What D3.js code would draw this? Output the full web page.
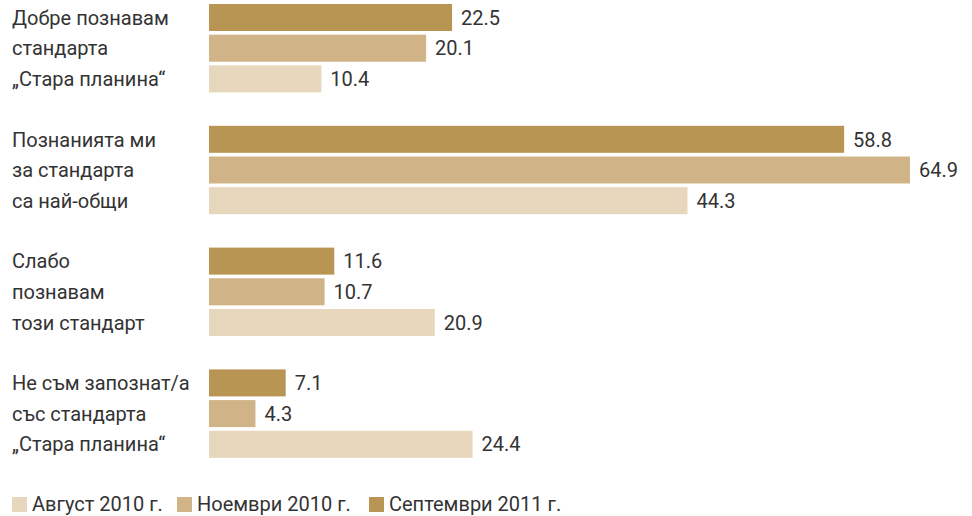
<!DOCTYPE html>
<html><head><meta charset="utf-8">
<script src="https://cdn.jsdelivr.net/npm/d3@7"></script>
<style>body{margin:0;background:#fff}svg{display:block}text{font-family:Roboto,"Noto Sans",sans-serif;fill:#333}</style>
</head><body>
<script>
const categories = [
  ["Добре познавам","стандарта","„Стара планина“"],
  ["Познанията ми","за стандарта","са най-общи"],
  ["Слабо","познавам","този стандарт"],
  ["Не съм запознат/а","със стандарта","„Стара планина“"]
];
const seriesNames = ["Септември 2011 г.","Ноември 2010 г.","Август 2010 г."];
const sep2011 = [22.5, 58.8, 11.6, 7.1];
const nov2010 = [20.1, 64.9, 10.7, 4.3];
const aug2010 = [10.4, 44.3, 20.9, 24.4];
const legendOrder = ["Август 2010 г.","Ноември 2010 г.","Септември 2011 г."];
const colors = {"Септември 2011 г.":"#b99554","Ноември 2010 г.":"#d0b488","Август 2010 г.":"#e7d7bc"};

const W=972,H=516;
const svg=d3.select("body").append("svg").attr("width",W).attr("height",H);
const x=d3.scaleLinear().domain([0,64.9]).range([209,910]);
const yGroup=d3.scaleBand().domain(d3.range(4)).range([4,4+4*121.8]).padding(0);
const seriesVals=[sep2011,nov2010,aug2010];
const FS=20;

categories.forEach((lines,i)=>{
  const g0=yGroup(i);
  const ySub=d3.scaleBand().domain(d3.range(3)).range([g0,g0+88.4]).paddingInner(0.12).paddingOuter(0);
  seriesVals.forEach((vals,s)=>{
    const y=ySub(s), h=ySub.bandwidth();
    svg.append("rect").attr("x",x(0)).attr("y",y).attr("width",x(vals[i])-x(0)).attr("height",h)
      .attr("fill",colors[seriesNames[s]]);
    svg.append("text").attr("x",x(vals[i])+9).attr("y",y+h/2).attr("dy","0.36em")
      .attr("font-size",FS).text(vals[i].toFixed(1));
    svg.append("text").attr("x",12).attr("y",y+h/2).attr("dy","0.36em")
      .attr("font-size",FS).text(lines[s]);
  });
});

const legX=[12,177,369];
legendOrder.forEach((n,k)=>{
  svg.append("rect").attr("x",legX[k]).attr("y",497).attr("width",15).attr("height",15).attr("fill",colors[n]);
  svg.append("text").attr("x",legX[k]+20).attr("y",504).attr("dy","0.36em").attr("font-size",FS).text(n);
});
</script>
</body></html>
